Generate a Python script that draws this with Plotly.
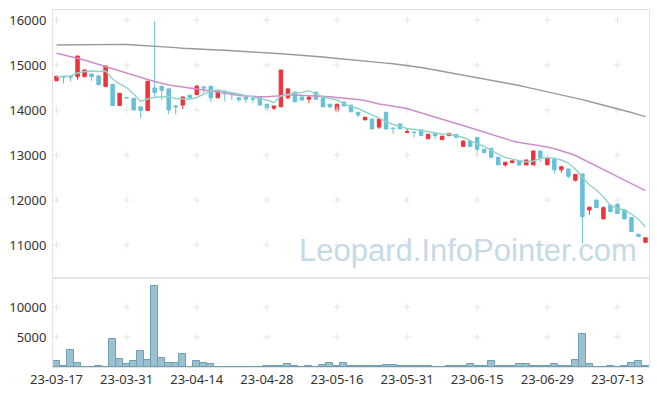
import plotly.graph_objects as go

dates = ["23-03-17","23-03-20","23-03-21","23-03-22","23-03-23","23-03-24","23-03-27","23-03-28","23-03-29","23-03-30",
         "23-03-31","23-04-03","23-04-04","23-04-05","23-04-06","23-04-07","23-04-10","23-04-11","23-04-12","23-04-13",
         "23-04-14","23-04-17","23-04-18","23-04-19","23-04-20","23-04-21","23-04-24","23-04-25","23-04-26","23-04-27",
         "23-04-28","23-05-02","23-05-03","23-05-04","23-05-08","23-05-09","23-05-10","23-05-11","23-05-12","23-05-15",
         "23-05-16","23-05-17","23-05-18","23-05-19","23-05-22","23-05-23","23-05-24","23-05-25","23-05-26","23-05-30",
         "23-05-31","23-06-01","23-06-02","23-06-05","23-06-07","23-06-08","23-06-09","23-06-12","23-06-13","23-06-14",
         "23-06-15","23-06-16","23-06-19","23-06-20","23-06-21","23-06-22","23-06-23","23-06-26","23-06-27","23-06-28",
         "23-06-29","23-06-30","23-07-03","23-07-04","23-07-05","23-07-06","23-07-07","23-07-10","23-07-11","23-07-12",
         "23-07-13","23-07-14","23-07-17","23-07-18","23-07-19"]

open_ = [14650,14750,14750,14740,14740,14800,14760,14520,14570,14100,
         14280,14260,14070,13990,14490,14530,14470,14090,14110,14330,
         14340,14510,14530,14270,14420,14380,14270,14290,14250,14290,
         14130,14040,14070,14270,14400,14290,14240,14400,14270,14130,
         13980,14180,14110,13950,13780,13800,13620,13950,13600,13690,
         13500,13510,13560,13360,13480,13340,13430,13460,13190,13310,
         13390,13130,13150,12950,12780,12830,12870,12780,12780,13090,
         12780,12900,12670,12690,12440,12580,11780,12000,11580,11890,
         11910,11780,11610,11240,11060]
high = [14760,14760,14760,15200,14890,14800,14760,14980,14570,14370,
        14290,14260,14070,14640,15980,14530,14470,14110,14290,14330,
        14560,14540,14530,14440,14420,14380,14270,14290,14260,14290,
        14130,14090,14890,14470,14400,14290,14290,14400,14270,14130,
        14130,14180,14110,13950,13840,13800,13800,13950,13600,13690,
        13600,13510,13560,13470,13480,13420,13490,13460,13320,13310,
        13390,13130,13150,12950,12840,12870,12870,12890,13090,13090,
        12940,12900,12740,12690,12570,12580,11840,12000,11860,11890,
        11910,11780,11610,11240,11170]
low = [14640,14590,14640,14670,14740,14650,14560,14520,14100,14100,
       14260,14000,13820,13990,14300,14220,13910,13900,14020,14270,
       14340,14380,14180,14270,14190,14220,14180,14160,14160,14110,
       14040,14000,14070,14240,14180,14220,14150,14240,14070,14040,
       13980,14090,13960,13840,13780,13580,13580,13560,13470,13580,
       13500,13390,13430,13360,13350,13340,13430,13390,13190,13190,
       13000,13050,12930,12780,12740,12830,12760,12780,12780,12850,
       12780,12590,12610,12490,12410,11040,11670,11830,11580,11740,
       11700,11580,11300,11190,11060]
close = [14750,14730,14730,15200,14890,14740,14560,14980,14100,14370,
         14270,14000,13990,14640,14390,14440,14000,14070,14290,14270,
         14530,14490,14270,14410,14360,14340,14230,14240,14240,14110,
         14040,14090,14890,14470,14180,14220,14290,14240,14070,14070,
         14130,14090,13960,13890,13840,13580,13800,13580,13590,13580,
         13520,13500,13430,13460,13430,13420,13480,13390,13310,13190,
         13130,13050,12950,12780,12840,12870,12780,12890,13090,12940,
         12940,12670,12740,12530,12570,11630,11840,11830,11830,11740,
         11700,11580,11300,11190,11160]

ma_short = [14740,14744,14756,14822,14856,14867,14856,14867,14689,14578,
            14500,14356,14189,14244,14282,14289,14296,14256,14240,14240,
            14278,14356,14429,14444,14422,14384,14356,14322,14289,14244,
            14222,14162,14311,14344,14378,14389,14429,14356,14289,14256,
            14222,14144,14078,14033,13967,13900,13822,13744,13678,13633,
            13589,13567,13544,13511,13489,13467,13462,13433,13389,13322,
            13244,13189,13100,13022,12944,12900,12873,12851,12867,12922,
            12944,12927,12889,12822,12689,12500,12333,12222,12067,11878,
            11811,11778,11689,11567,11407]
ma_mid = [15260,15225,15189,15150,15111,15061,15011,14961,14911,14861,
          14811,14767,14722,14678,14633,14594,14556,14533,14511,14494,
          14478,14456,14433,14406,14378,14350,14322,14311,14300,14298,
          14296,14312,14327,14330,14333,14328,14322,14317,14311,14294,
          14278,14267,14256,14233,14211,14172,14133,14111,14089,14061,
          14033,13983,13933,13889,13844,13794,13744,13700,13656,13606,
          13556,13500,13444,13394,13344,13311,13278,13256,13233,13206,
          13178,13139,13100,13044,12989,12913,12838,12759,12680,12601,
          12522,12443,12364,12286,12207]
ma_long = [15444,15447,15449,15453,15456,15458,15460,15460,15460,15458,
           15456,15448,15440,15431,15422,15411,15400,15386,15371,15360,
           15349,15344,15338,15333,15327,15319,15311,15303,15296,15284,
           15273,15261,15249,15239,15229,15218,15207,15192,15178,15161,
           15144,15131,15118,15103,15089,15072,15056,15042,15029,15011,
           14993,14969,14944,14917,14889,14861,14833,14806,14778,14748,
           14718,14692,14667,14639,14611,14578,14544,14508,14473,14440,
           14407,14378,14349,14311,14273,14231,14189,14150,14111,14072,
           14033,13989,13944,13898,13851]

volume = [950,250,2860,600,80,80,250,80,4700,1360,
          420,920,2750,1190,13420,1530,640,750,2190,80,
          1080,700,420,0,0,0,0,0,0,0,
          200,100,100,420,200,0,100,0,370,700,
          100,700,200,200,200,200,200,370,370,100,
          200,100,180,200,0,0,100,100,230,420,
          230,230,920,230,100,230,420,580,100,100,
          100,580,100,100,1250,5580,580,0,0,100,
          0,100,700,920,230]

price_ticks = [11000, 12000, 13000, 14000, 15000, 16000]
volume_ticks = [5000, 10000]
label_dates = dates[::10]

RED = "#EE343A"
BLUE = "#66C0D8"
GRID = "#E4E4E4"
AXIS = "#E3E3E3"

fig = go.Figure()

# grid crosses at tick intersections
cx = [d for d in label_dates for _ in price_ticks]
cy = [v for _ in label_dates for v in price_ticks]
fig.add_trace(go.Scatter(x=cx, y=cy, mode="markers", xaxis="x", yaxis="y",
                         marker=dict(symbol="cross-thin", size=5, line=dict(color=GRID, width=1)),
                         hoverinfo="skip", showlegend=False))
vx = [d for d in label_dates for _ in volume_ticks]
vy = [v for _ in label_dates for v in volume_ticks]
fig.add_trace(go.Scatter(x=vx, y=vy, mode="markers", xaxis="x2", yaxis="y2",
                         marker=dict(symbol="cross-thin", size=5, line=dict(color=GRID, width=1)),
                         hoverinfo="skip", showlegend=False))

fig.add_trace(go.Scatter(x=dates, y=ma_long, mode="lines", line=dict(color="#9A9A9A", width=1.4),
                         xaxis="x", yaxis="y", hoverinfo="skip", showlegend=False))
fig.add_trace(go.Scatter(x=dates, y=ma_mid, mode="lines", line=dict(color="#CF8DC9", width=1.4),
                         xaxis="x", yaxis="y", hoverinfo="skip", showlegend=False))
fig.add_trace(go.Scatter(x=dates, y=ma_short, mode="lines", line=dict(color="#93D2C8", width=1.4),
                         xaxis="x", yaxis="y", hoverinfo="skip", showlegend=False))

fig.add_trace(go.Candlestick(x=dates, open=open_, high=high, low=low, close=close,
                             xaxis="x", yaxis="y", whiskerwidth=0,
                             increasing=dict(line=dict(color=RED, width=1), fillcolor=RED),
                             decreasing=dict(line=dict(color=BLUE, width=1), fillcolor=BLUE),
                             hoverinfo="skip", showlegend=False))

fig.add_trace(go.Bar(x=dates, y=volume, xaxis="x2", yaxis="y2",
                     marker=dict(color="#9BC1D1", line=dict(color="#6F9EB5", width=1)),
                     hoverinfo="skip", showlegend=False))

fig.add_annotation(text="Leopard.InfoPointer.com", xref="paper", yref="paper",
                   x=0.6955, y=0.325, xanchor="center", yanchor="middle", showarrow=False,
                   font=dict(family="Liberation Sans, Arial", size=31, color="#C6DAE6"))

vol_split = 89 / 357
common_x = dict(type="category", range=[-0.5, len(dates) - 0.5], showgrid=False,
                showline=True, linecolor=AXIS, mirror=True, zeroline=False,
                categoryorder="array", categoryarray=dates)
fig.update_layout(
    width=657, height=396,
    margin=dict(l=53, r=8, t=10, b=29),
    paper_bgcolor="white", plot_bgcolor="white",
    font=dict(family="Noto Sans", size=13, color="#333333"),
    showlegend=False, bargap=0, boxgap=0.3,
    xaxis=dict(common_x, domain=[0, 1], anchor="y", showticklabels=False,
               rangeslider=dict(visible=False)),
    xaxis2=dict(common_x, domain=[0, 1], anchor="y2", matches="x",
                tickmode="array", tickvals=label_dates, ticktext=label_dates,
                ticks="", tickfont=dict(size=13, color="#333333")),
    yaxis=dict(domain=[vol_split, 1], range=[10267, 16222], tickvals=price_ticks,
               tickformat="d",
               showgrid=False, zeroline=False, showline=True, linecolor=AXIS, mirror=True,
               ticks="outside", ticklen=3, tickcolor="rgba(0,0,0,0)"),
    yaxis2=dict(domain=[0, vol_split], range=[0, 14830], tickvals=volume_ticks,
                tickformat="d",
                showgrid=False, zeroline=False, showline=True, linecolor=AXIS, mirror=True,
                ticks="outside", ticklen=3, tickcolor="rgba(0,0,0,0)"),
)

fig.write_html("out.html", config={"displayModeBar": False},
               post_script="document.body.style.margin='0';document.body.style.overflow='hidden';")
